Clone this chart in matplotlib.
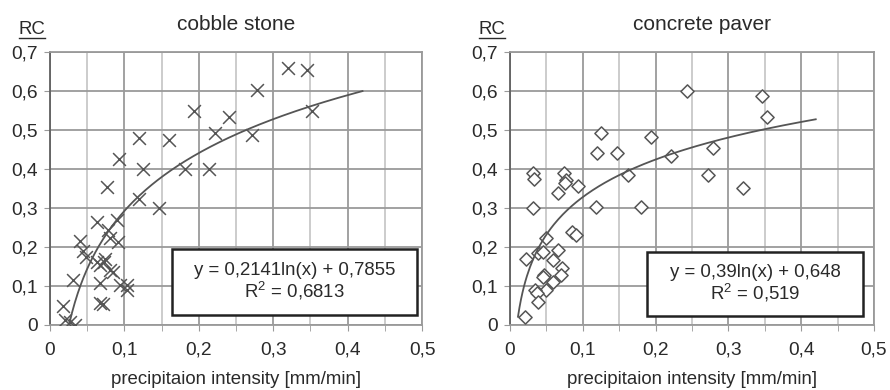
import numpy as np
import matplotlib
matplotlib.use('Agg')
import matplotlib.pyplot as plt
from matplotlib.patches import Rectangle
from matplotlib.ticker import MultipleLocator, FuncFormatter

plt.rcParams['font.family'] = ['Liberation Sans', 'DejaVu Sans']
plt.rcParams['mathtext.fontset'] = 'custom'
plt.rcParams['mathtext.rm'] = 'Liberation Sans'

# cobble stone: precipitation intensity [mm/min] vs RC
cobble_x = [0.320, 0.345, 0.278, 0.193, 0.352, 0.241, 0.119, 0.160, 0.222, 0.272,
            0.093, 0.125, 0.181, 0.214, 0.076, 0.119, 0.146, 0.090, 0.063, 0.078,
            0.081, 0.091, 0.040, 0.045, 0.049, 0.074, 0.067, 0.080, 0.031, 0.067,
            0.094, 0.103, 0.103, 0.067, 0.071, 0.018, 0.020, 0.034, 0.027, 0.072,
            0.085, 0.063]
cobble_y = [0.659, 0.655, 0.603, 0.549, 0.549, 0.534, 0.480, 0.474, 0.492, 0.488,
            0.425, 0.400, 0.400, 0.400, 0.353, 0.322, 0.300, 0.270, 0.263, 0.243,
            0.222, 0.213, 0.215, 0.190, 0.175, 0.170, 0.154, 0.141, 0.115, 0.108,
            0.102, 0.102, 0.090, 0.057, 0.054, 0.048, 0.013, 0.000, 0.008, 0.162,
            0.136, 0.162]
cobble_fit = (0.2141, 0.7855, 0.0255, 0.42)   # a, b, x from, x to
cobble_label = 'y = 0,2141ln(x) + 0,7855\nR$^2$ = 0,6813'

# concrete paver
paver_x = [0.243, 0.346, 0.353, 0.125, 0.194, 0.119, 0.147, 0.279, 0.221, 0.162,
           0.272, 0.320, 0.031, 0.033, 0.074, 0.077, 0.075, 0.066, 0.093, 0.032,
           0.118, 0.180, 0.085, 0.091, 0.050, 0.022, 0.039, 0.046, 0.066, 0.059,
           0.071, 0.047, 0.045, 0.070, 0.059, 0.049, 0.034, 0.037, 0.039, 0.021]
paver_y = [0.600, 0.587, 0.534, 0.493, 0.483, 0.440, 0.442, 0.455, 0.433, 0.385,
           0.385, 0.350, 0.389, 0.374, 0.389, 0.372, 0.365, 0.338, 0.357, 0.300,
           0.303, 0.303, 0.239, 0.230, 0.222, 0.168, 0.184, 0.188, 0.191, 0.167,
           0.146, 0.128, 0.123, 0.128, 0.109, 0.090, 0.090, 0.082, 0.059, 0.020]
paver_fit = (0.139, 0.648, 0.011, 0.42)
paver_label = 'y = 0,39ln(x) + 0,648\nR$^2$ = 0,519'

fig = plt.figure(figsize=(8.9, 3.9), dpi=100)
ax1 = fig.add_axes([0.0562, 0.1667, 0.418, 0.70])
ax2 = fig.add_axes([0.573, 0.1667, 0.409, 0.70])

comma = FuncFormatter(lambda v, p: ('%g' % round(v, 2)).replace('.', ','))
txt = '#2a2a2a'


def draw(ax, xs, ys, fit, label, marker, title, title_x, box):
    ax.set_xlim(0, 0.5)
    ax.set_ylim(0, 0.7)
    ax.xaxis.set_major_locator(MultipleLocator(0.1))
    ax.xaxis.set_minor_locator(MultipleLocator(0.05))
    ax.yaxis.set_major_locator(MultipleLocator(0.1))
    ax.xaxis.set_major_formatter(comma)
    ax.yaxis.set_major_formatter(comma)
    ax.grid(True, which='major', color='#9a9a9a', lw=1.3)
    ax.grid(True, which='minor', axis='x', color='#c8c8c8', lw=1.3)
    ax.set_axisbelow(True)
    for s in ax.spines.values():
        s.set_color('#9a9a9a')
        s.set_linewidth(1.3)
    ax.spines['left'].set_color('#606060')
    ax.tick_params(which='both', length=4, color='#9a9a9a', labelsize=13.8,
                   labelcolor=txt)
    ax.tick_params(axis='x', pad=8)
    ax.tick_params(axis='y', pad=5)
    if marker == 'x':
        ax.scatter(xs, ys, marker='x', s=85, color='#555555', lw=1.1, zorder=3)
    else:
        ax.scatter(xs, ys, marker='D', s=45, facecolor='white', edgecolor='#555555',
                   lw=1.1, zorder=3)
    a, b, x0, x1 = fit
    xx = np.linspace(x0, x1, 200)
    ax.plot(xx, a * np.log(xx) + b, color='#555555', lw=1.3, zorder=4)
    bx0, by0, bx1, by1 = box
    ax.add_patch(Rectangle((bx0, by0), bx1 - bx0, by1 - by0, facecolor='white',
                           edgecolor='#222222', lw=1.8, zorder=5))
    ax.text((bx0 + bx1) / 2, (by0 + by1) / 2, label, ha='center', va='center',
            fontsize=13.4, color=txt, linespacing=1.0, zorder=6)
    ax.set_title(title, fontsize=15, color=txt, pad=16, x=title_x)
    ax.set_xlabel('precipitaion intensity [mm/min]', fontsize=13.4,
                  color=txt, labelpad=9)
    # underlined "RC" unit label above the y axis
    ax.text(-0.049, 1.065, 'RC', transform=ax.transAxes, ha='center',
            va='baseline', fontsize=13.4, color=txt)
    ax.plot([-0.084, -0.014], [1.052, 1.052], transform=ax.transAxes,
            color=txt, lw=1.0, clip_on=False)


draw(ax1, cobble_x, cobble_y, cobble_fit, cobble_label, 'x', 'cobble stone', 0.5,
     (0.164, 0.026, 0.493, 0.195))
draw(ax2, paver_x, paver_y, paver_fit, paver_label, 'D', 'concrete paver', 0.527,
     (0.188, 0.023, 0.485, 0.187))

fig.savefig('out.png', dpi=100)
